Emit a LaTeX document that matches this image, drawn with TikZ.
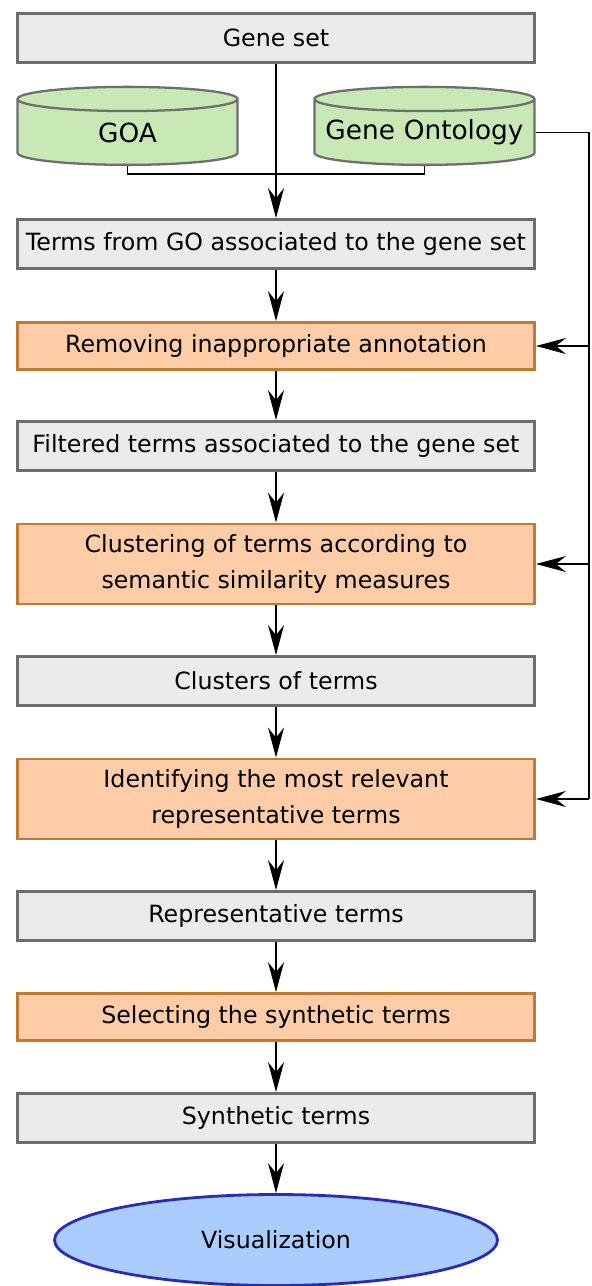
\documentclass[tikz,border=0pt]{standalone}
\usepackage{fontspec}
\setmainfont{DejaVu Sans}
\usetikzlibrary{arrows.meta,shapes.geometric}
\definecolor{BoxGray}{HTML}{EBEBEB}
\definecolor{EdgeGray}{HTML}{6E6E6E}
\definecolor{StepFill}{HTML}{FFCCA8}
\definecolor{StepEdge}{HTML}{C27A32}
\definecolor{DbFill}{HTML}{C8E8B6}
\definecolor{ViewFill}{HTML}{AACCFF}
\definecolor{ViewEdge}{HTML}{2B2BB8}

\begin{document}
\begin{tikzpicture}[
    every node/.style={font=\fontsize{13.5}{20}\selectfont, align=center, inner sep=0pt},
    procbox/.style={rectangle, draw=EdgeGray, fill=BoxGray, line width=1.6pt, minimum width=10.34cm, minimum height=0.98cm},
    stepbox/.style={rectangle, draw=StepEdge, fill=StepFill, line width=1.6pt, minimum width=10.34cm, minimum height=0.94cm},
    dbase/.style={cylinder, shape border rotate=90, aspect=0.11, text width=4.4cm, font=\fontsize{15}{18}\selectfont, draw=EdgeGray, fill=DbFill, line width=1.3pt, minimum height=1.56cm},
    viewnode/.style={ellipse, draw=ViewEdge, fill=ViewFill, line width=1.6pt, minimum width=8.86cm, minimum height=1.82cm},
    flow/.style={-{Stealth[length=6mm, width=3.2mm, inset=2mm]}, line width=1pt}
  ]
  \useasboundingbox (0,0) rectangle (11.82,-25.72);

  \node[procbox] (geneset) at (5.52,-0.76) {Gene set};
  \node[dbase] (goa) at (2.55,-2.65) {GOA};
  \node[dbase] (onto) at (8.49,-2.65) {Gene Ontology};
  \node[procbox] (goterms) at (5.52,-4.88) {Terms from GO associated to the gene set};
  \node[stepbox] (remove) at (5.52,-6.92) {Removing inappropriate annotation};
  \node[procbox] (filtered) at (5.52,-8.92) {Filtered terms associated to the gene set};
  \node[stepbox, minimum height=1.6cm] (cluster) at (5.52,-11.28) {Clustering of terms according to\\semantic similarity measures};
  \node[procbox] (clusters) at (5.52,-13.62) {Clusters of terms};
  \node[stepbox, minimum height=1.6cm] (identify) at (5.52,-15.98) {Identifying the most relevant\\representative terms};
  \node[procbox] (repr) at (5.52,-18.32) {Representative terms};
  \node[stepbox] (select) at (5.52,-20.34) {Selecting the synthetic terms};
  \node[procbox] (synth) at (5.52,-22.36) {Synthetic terms};
  \node[viewnode] (visu) at (5.52,-24.8) {Visualization};

  \coordinate (rail) at (11.78,0);

  \draw[line width=1pt] (goa.south) -- ++(0,-0.16) -| (onto.south);
  \draw[flow] (geneset) -- (goterms);
  \draw[flow] (goterms) -- (remove);
  \draw[flow] (remove) -- (filtered);
  \draw[flow] (filtered) -- (cluster);
  \draw[flow] (cluster) -- (clusters);
  \draw[flow] (clusters) -- (identify);
  \draw[flow] (identify) -- (repr);
  \draw[flow] (repr) -- (select);
  \draw[flow] (select) -- (synth);
  \draw[flow] (synth) -- (visu);

  \draw[line width=1pt] (onto.east) -- (onto.east -| rail) -- (rail |- identify.east);
  \draw[flow] (rail |- remove.east) -- (remove.east);
  \draw[flow] (rail |- cluster.east) -- (cluster.east);
  \draw[flow] (rail |- identify.east) -- (identify.east);
\end{tikzpicture}
\end{document}
